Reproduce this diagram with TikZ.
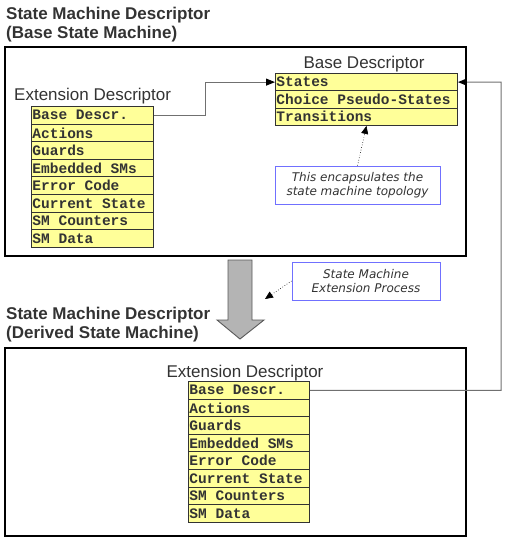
\documentclass[tikz,border=0pt]{standalone}
\usepackage{fontspec}
\setmainfont{Liberation Sans}
\setmonofont{Liberation Mono}
\newfontfamily\notefont{DejaVu Sans}
\usetikzlibrary{arrows.meta}
\definecolor{fieldyellow}{HTML}{FFFF99}
\definecolor{fieldline}{HTML}{333333}
\definecolor{noteblue}{HTML}{7070FF}
\definecolor{wiregray}{HTML}{707070}
\definecolor{blockgray}{HTML}{B4B4B4}
\definecolor{inkgray}{HTML}{333333}
\newcommand\gap{\hspace{0.6em}}
\tikzset{
  field/.style={draw=fieldline, fill=fieldyellow, line width=0.9pt, anchor=north west,
    inner xsep=1pt, inner ysep=0pt, minimum height=17.6pt, align=left,
    font=\ttfamily\bfseries\fontsize{14.5}{16}\selectfont, text=inkgray},
  heading/.style={font=\bfseries\fontsize{17}{19}\selectfont, text=inkgray, align=left,
    anchor=north west, inner sep=0pt},
  tabletitle/.style={font=\fontsize{17}{19}\selectfont, text=inkgray, anchor=base, inner sep=0pt},
  note/.style={draw=noteblue, line width=0.9pt, minimum width=165pt, minimum height=38pt,
    align=center, font=\notefont\itshape\fontsize{12}{14}\selectfont, text=inkgray},
  wire/.style={draw=wiregray, line width=1pt, -{Triangle[length=9pt,width=7pt,color=black]}},
  hint/.style={draw=black, line width=0.6pt, dotted, -{Triangle[length=8pt,width=7pt]}}
}
\begin{document}
\begin{tikzpicture}[x=1pt,y=-1pt]
			%%%%% START %%%%%
			\useasboundingbox (0,0) rectangle (510,541);
			
			\node[heading] (topttl) at (6,7) {State Machine Descriptor\\(Base State Machine)};
			\draw[line width=1.3pt] (5,47) rectangle (466,256);
			
			\node[tabletitle] (basettl) at (364,68) {Base Descriptor};
			\foreach \lbl [count=\i] in {States,Choice\gap Pseudo-States,Transitions}
				\node[field, text width=180pt, minimum height=17.33pt] (bd-\i) at (275,{73+(\i-1)*17.33}) {\lbl};
			
			\node[tabletitle, anchor=base west] (extttl) at (14,100) {Extension Descriptor};
			\foreach \lbl [count=\i] in {Base\gap Descr.,Actions,Guards,Embedded\gap SMs,Error\gap Code,Current\gap State,SM\gap Counters,SM\gap Data}
				\node[field, text width=120pt] (ta-\i) at (31,{106+(\i-1)*17.6}) {\lbl};
			
			\draw[wire] (ta-1.east) -- ++(52,0) |- (bd-1.west);
			
			\node[note] (topo) at (357.5,185) {This encapsulates the\\state machine topology};
			\draw[hint] (topo.north) -- (bd-3.south);
			
			%%%%% extension step
			\draw[draw=black!65, fill=blockgray, line width=0.9pt] (228,260) -- (252,260) -- (252,320) -- (264,320)
				-- (240,339) -- (217,320) -- (228,320) -- cycle;
			\node[note, minimum width=148pt] (extproc) at (366,281) {State Machine\\Extension Process};
			\coordinate (procend) at (265,299);
			\draw[hint] (extproc.west) -- (procend);
			
			\node[heading] (botttl) at (6,307) {State Machine Descriptor\\(Derived State Machine)};
			\draw[line width=1.3pt] (5,348) rectangle (466,536);
			
			\node[tabletitle] (extttl2) at (245,377) {Extension Descriptor};
			\foreach \lbl [count=\i] in {Base\gap Descr.,Actions,Guards,Embedded\gap SMs,Error\gap Code,Current\gap State,SM\gap Counters,SM\gap Data}
				\node[field, text width=119pt] (tb-\i) at (188,{381+(\i-1)*17.6}) {\lbl};
			
			\coordinate (rturn) at (501,82);
			\draw[wire] (tb-1.east) -| (rturn) -- (bd-1.east);
			
			%%%%% END %%%%%
\end{tikzpicture}
\end{document}
